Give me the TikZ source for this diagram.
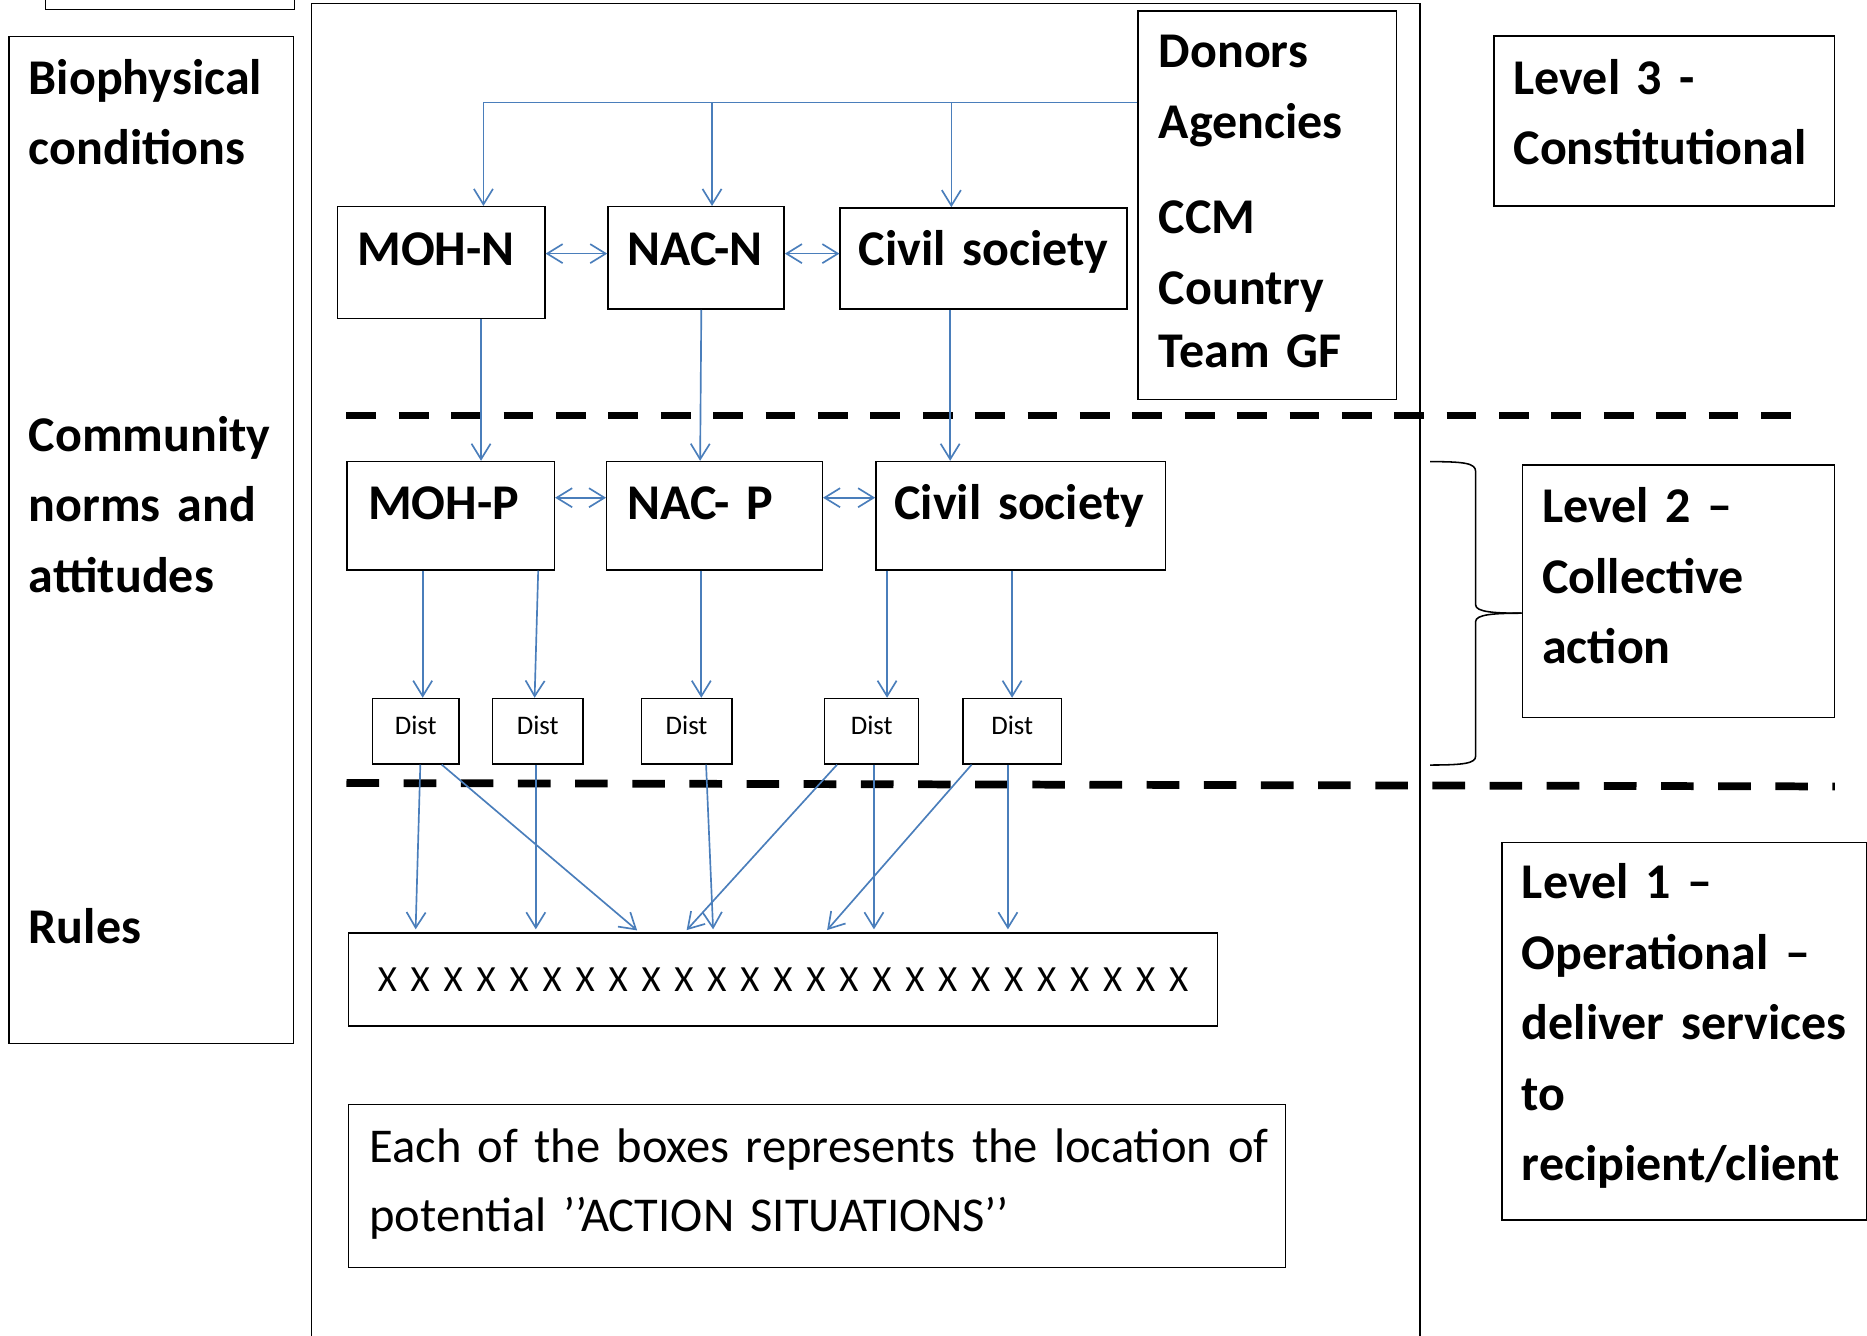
\documentclass[tikz,border=0pt]{standalone}
\usepackage{fontspec}
\setmainfont{Carlito}
\usetikzlibrary{arrows.meta}
\definecolor{blueC}{HTML}{4A7EBB}
\begin{document}
\begin{tikzpicture}[x=1pt,y=-1pt,
  box/.style={draw=black, line width=1.2pt, inner sep=0pt, anchor=north west},
  lab/.style={anchor=base west, inner sep=0pt, text width=420pt, align=left,
    font=\fontsize{42}{59.2}\selectfont\bfseries},
  conn/.style={draw=blueC, line width=1.4pt, -{Straight Barb[length=13pt,width=16pt]}},
  dconn/.style={draw=blueC, line width=1.4pt,
    {Straight Barb[length=13pt,width=16pt]}-{Straight Barb[length=13pt,width=16pt]}},
  distbox/.style={box, minimum height=55pt, font=\fontsize{22.5}{26}\selectfont,
    text height=16pt, text depth=11pt},
  thickdash/.style={line width=6.3pt, dash pattern=on 25pt off 19pt},
  thickdashb/.style={line width=6.5pt, dash pattern=on 27.4pt off 20.6pt},
  bracestyle/.style={line width=1.3pt}
]
\useasboundingbox (0,0) rectangle (1568,1122);

% outer boxes
\node[box, minimum width=209.2pt, minimum height=40pt] (topbox) at (37.5,-32.4) {};
\node[box, minimum width=239pt, minimum height=846pt] (bio) at (7,30) {};
\node[box, minimum width=931pt, minimum height=1160pt] (frame) at (261,2.2) {};
\node[box, minimum width=217pt, minimum height=326.5pt] (donors) at (955,8.5) {};
\node[box, minimum width=286pt, minimum height=143pt] (lvl3) at (1254,29.5) {};
\node[box, minimum width=262pt, minimum height=212pt] (lvl2) at (1278,390) {};
\node[box, minimum width=306pt, minimum height=317pt] (lvl1) at (1261,707) {};

% national level
\node[box, minimum width=174pt, minimum height=94pt] (mohn) at (283,173) {};
\node[box, minimum width=148pt, minimum height=86pt] (nacn) at (510,173) {};
\node[box, minimum width=241pt, minimum height=85pt] (civn) at (705,174) {};

% provincial level
\node[box, minimum width=174pt, minimum height=91pt] (mohp) at (291,387) {};
\node[box, minimum width=181pt, minimum height=91pt] (nacp) at (509,387) {};
\node[box, minimum width=243pt, minimum height=91pt] (civp) at (735,387) {};

% district boxes
\node[distbox, minimum width=73pt] (d1) at (312,586) {Dist};
\node[distbox, minimum width=76pt] (d2) at (413,586) {Dist};
\node[distbox, minimum width=76pt] (d3) at (538,586) {Dist};
\node[distbox, minimum width=79pt] (d4) at (692,586) {Dist};
\node[distbox, minimum width=83pt] (d5) at (808,586) {Dist};

% action situations
\node[box, minimum width=730pt, minimum height=78pt,
  font=\fontsize{31}{37}\selectfont] (xbox) at (292,783)
  {\spaceskip=11.6pt X X X X X X X X X X X X X X X X X X X X X X X X X};
\node[box, minimum width=787pt, minimum height=137pt] (note) at (292,927) {};

% texts
\node[lab] (bio-t) at (24,79) {Biophysical\\conditions};
\node[lab] (comm-t) at (24,379) {Community\\norms and\\attitudes};
\node[lab] (rules-t) at (24,792) {Rules};
\node[lab] (donors-t) at (973,57) {Donors\\Agencies\\[21pt]CCM\\Country\\[-6pt]Team GF};
\node[lab] (lvl3-t) at (1271,79) {Level 3 -\\Constitutional};
\node[lab] (lvl2-t) at (1295,439) {Level 2 –\\Collective\\action};
\node[lab] (lvl1-t) at (1278,755) {Level 1 –\\Operational –\\deliver services\\to\\recipient/client};
\node[lab] (mohn-t) at (300,223) {MOH-N};
\node[lab] (nacn-t) at (527,223) {NAC-N};
\node[lab] (civn-t) at (721,223) {Civil society};
\node[lab] (mohp-t) at (309,436) {MOH-P};
\node[lab] (nacp-t) at (527,436) {NAC- P};
\node[lab] (civp-t) at (751,436) {Civil society};
\node[lab, text width=900pt, font=\fontsize{40.8}{58}\selectfont] (note-t) at (310,976)
  {Each of the boxes represents the location of\\potential ’’ACTION SITUATIONS’’};

% dashed level separators
\draw[thickdash] (291,349) -- (1512,349);
\draw[thickdashb] (291,657.6) -- (1541,660.5);

% brace
\draw[bracestyle] (1201,387.7) .. controls (1230,387.7) and (1239.3,389) .. (1239.3,396)
  -- (1239.3,508) .. controls (1239.3,514) and (1255,515) .. (lvl2.west |- 0,515);
\draw[bracestyle] (lvl2.west |- 0,515) .. controls (1255,515) and (1239.3,516) .. (1239.3,522)
  -- (1239.3,635) .. controls (1239.3,641) and (1230,642.5) .. (1201,642.5);

% donors connectors
\coordinate (j0) at (0,86);
\coordinate (j1) at (598,86);
\coordinate (j2) at (799,86);
\draw[conn] (j0 -| donors.west) -| (406,0 |- mohn.north);
\draw[conn] (j1) -- (j1 |- nacn.north);
\draw[conn] (j2) -- (j2 |- civn.north);

% national lateral links
\draw[dconn] (mohn.east |- 0,213) -- (nacn.west |- 0,213);
\draw[dconn] (nacn.east |- 0,213) -- (civn.west |- 0,213);

% national -> provincial
\draw[conn] (404,0 |- mohn.south) -- (404,0 |- mohp.north);
\draw[conn] (589,0 |- nacn.south) -- (588,0 |- nacp.north);
\draw[conn] (798,0 |- civn.south) -- (798,0 |- civp.north);

% provincial lateral links
\draw[dconn] (mohp.east |- 0,418) -- (nacp.west |- 0,418);
\draw[dconn] (nacp.east |- 0,418) -- (civp.west |- 0,418);

% provincial -> district
\draw[conn] (355,0 |- mohp.south) -- (355,0 |- d1.north);
\draw[conn] (452,0 |- mohp.south) -- (449,0 |- d2.north);
\draw[conn] (589,0 |- nacp.south) -- (589,0 |- d3.north);
\draw[conn] (745,0 |- civp.south) -- (745,0 |- d4.north);
\draw[conn] (850,0 |- civp.south) -- (850,0 |- d5.north);

% district -> action situations
\begin{scope}[shorten >=2.5pt]
\draw[conn] (353,0 |- d1.south) -- (349,0 |- xbox.north);
\draw[conn] (371,0 |- d1.south) -- (537,0 |- xbox.north);
\draw[conn] (450,0 |- d2.south) -- (450,0 |- xbox.north);
\draw[conn] (593,0 |- d3.south) -- (599,0 |- xbox.north);
\draw[conn] (703,0 |- d4.south) -- (575,0 |- xbox.north);
\draw[conn] (734,0 |- d4.south) -- (734,0 |- xbox.north);
\draw[conn] (816,0 |- d5.south) -- (693,0 |- xbox.north);
\draw[conn] (846.5,0 |- d5.south) -- (846.5,0 |- xbox.north);
\end{scope}
\end{tikzpicture}
\end{document}
